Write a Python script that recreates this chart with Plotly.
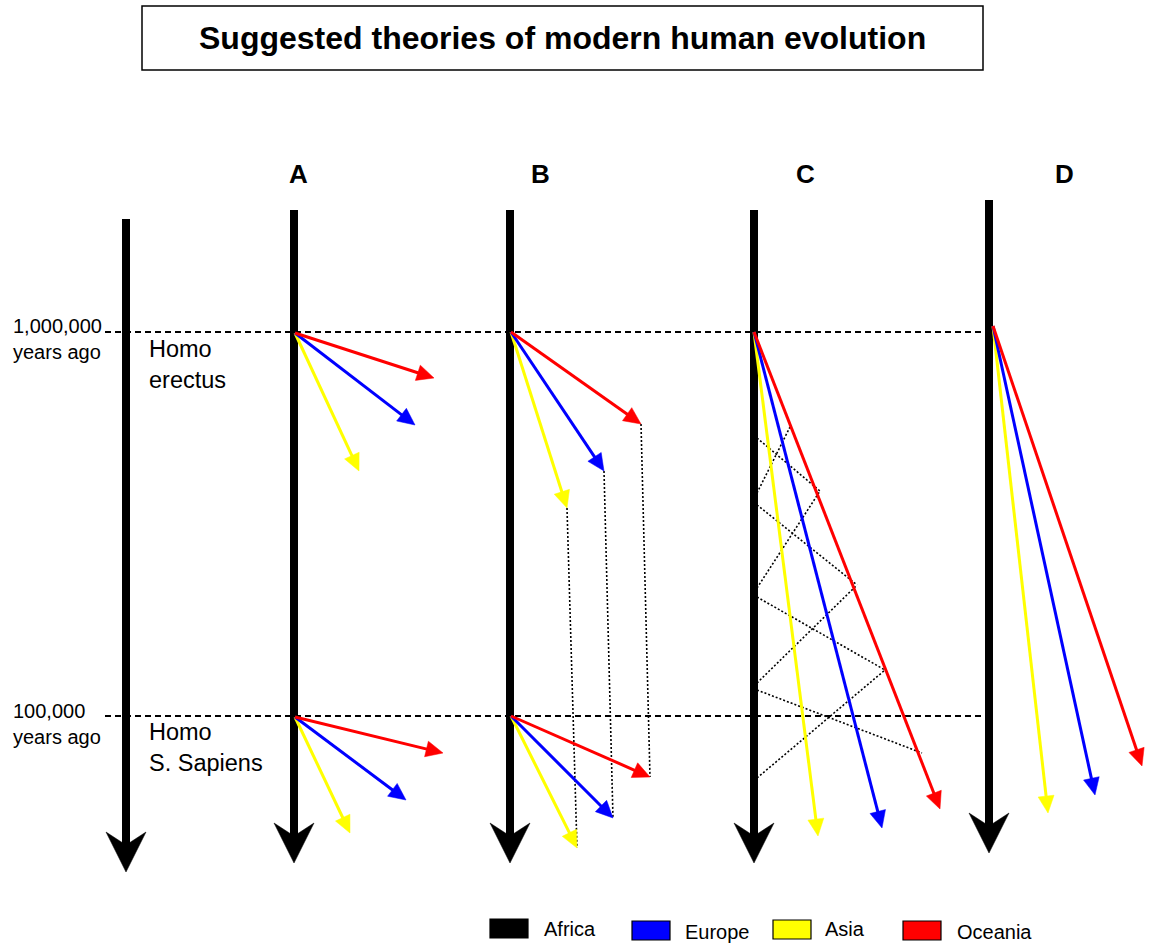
import numpy as np
import plotly.graph_objects as go

# ---------------- data ----------------
title = "Suggested theories of modern human evolution"
theories = ["A", "B", "C", "D"]
regions = ["Africa", "Europe", "Asia", "Oceania"]
region_colors = ["#000000", "#0000ff", "#ffff00", "#ff0000"]
time_labels = ["1,000,000<br>years ago", "100,000<br>years ago"]
species_labels = ["Homo<br>erectus", "Homo<br>S. Sapiens"]

# vertical timelines (reference, A, B, C, D) in page pixels
timeline_x = [126, 294, 510, 754, 989]
timeline_top = [219, 210, 210, 210, 200]
timeline_tip = [872, 863, 863, 863, 853]
era_y = [332, 716]
theory_label_x = [298, 540, 805, 1064]

# branch arrows: order Europe, Asia, Oceania
A1_origin = [295, 333]; A1_tip_x = [415, 359, 434]; A1_tip_y = [425, 471, 378]
A2_origin = [295, 717]; A2_tip_x = [406, 350, 443]; A2_tip_y = [800, 833, 753]
B1_origin = [511, 332]; B1_tip_x = [604, 567, 641]; B1_tip_y = [471, 508, 424]
B2_origin = [511, 716]; B2_tip_x = [613, 577, 650]; B2_tip_y = [818, 848, 777]
C_origin = [754, 332]; C_tip_x = [882, 818, 940]; C_tip_y = [828, 836, 809]
D_origin = [993, 326]; D_tip_x = [1095, 1048, 1142]; D_tip_y = [795, 813, 766]

# theory C gene-flow mesh (dotted)
C_mesh_left_x = 757
C_down_start_y = [438, 505, 597, 690]
C_down_end_x = [820, 857, 885, 922]
C_down_end_y = [491, 585, 670, 753]
C_up_start_y = [493, 588, 683, 778]
C_up_end_x = [790, 820, 857, 885]
C_up_end_y = [427, 491, 585, 670]

# legend
legend_box_x = [490, 632, 773, 903]
legend_box_y = [919, 921, 920, 921]
legend_text_x = [542, 683, 823, 955]
legend_text_y = [929, 932, 929, 932]

W, H = 1149, 943
FONT = "Liberation Sans, Arial, sans-serif"

fig = go.Figure()


def seg(xs, ys, color, width, dash=None):
    fig.add_trace(go.Scatter(x=xs, y=ys, mode="lines",
                             line=dict(color=color, width=width, dash=dash),
                             hoverinfo="skip", showlegend=False))


def arrow(x0, y0, x1, y1, color, width, head_len, head_w, notch=0.0):
    d = np.array([x1 - x0, y1 - y0], float)
    u = d / np.hypot(*d)
    n = np.array([-u[1], u[0]])
    tip = np.array([x1, y1], float)
    base = tip - u * head_len
    shaft_end = base + u * (notch + 1.5)
    seg([x0, shaft_end[0]], [y0, shaft_end[1]], color, width)
    left = base + n * head_w / 2
    right = base - n * head_w / 2
    if notch:
        pts = [tip, left, base + u * notch, right, tip]
    else:
        pts = [tip, left, right, tip]
    pts = np.array(pts)
    fig.add_trace(go.Scatter(x=pts[:, 0], y=pts[:, 1], mode="lines", fill="toself",
                             fillcolor=color, line=dict(color=color, width=0.5),
                             hoverinfo="skip", showlegend=False))


# dashed era lines
for yv in era_y:
    seg([105, 995], [yv, yv], "black", 2, dash="6px,4px")

# theory B dotted gene flow
for i in range(3):
    seg([B1_tip_x[i], B2_tip_x[i]], [B1_tip_y[i], B2_tip_y[i]], "black", 1.6, dash="2px,2px")

# theory C dotted mesh
for i in range(4):
    seg([C_mesh_left_x, C_down_end_x[i]], [C_down_start_y[i], C_down_end_y[i]], "black", 1.6, dash="2px,2px")
    seg([C_mesh_left_x, C_up_end_x[i]], [C_up_start_y[i], C_up_end_y[i]], "black", 1.6, dash="2px,2px")

# timelines (Africa)
for i in range(5):
    arrow(timeline_x[i], timeline_top[i], timeline_x[i], timeline_tip[i], "black", 8, 40, 40, notch=13)

# branch arrows
branch_color = [region_colors[1], region_colors[2], region_colors[3]]
for org, tx, ty in [(A1_origin, A1_tip_x, A1_tip_y), (A2_origin, A2_tip_x, A2_tip_y),
                    (B1_origin, B1_tip_x, B1_tip_y), (B2_origin, B2_tip_x, B2_tip_y),
                    (C_origin, C_tip_x, C_tip_y), (D_origin, D_tip_x, D_tip_y)]:
    for i in [1, 0, 2]:
        arrow(org[0], org[1], tx[i], ty[i], branch_color[i], 3, 17, 16)

ann = []
# theory letters
for lab, lx in zip(theories, theory_label_x):
    ann.append(dict(x=lx, y=174, text="<b>%s</b>" % lab, showarrow=False,
                    font=dict(size=26, color="black", family=FONT)))
# time labels
for lab, yv in zip(time_labels, [339, 724]):
    ann.append(dict(x=11, y=yv, text=lab, showarrow=False, xanchor="left", align="left",
                    font=dict(size=20, color="black", family=FONT)))
# species labels
for lab, yv in zip(species_labels, [364, 747]):
    ann.append(dict(x=147, y=yv, text=lab, showarrow=False, xanchor="left", align="left",
                    font=dict(size=23.5, color="black", family=FONT)))
# title
ann.append(dict(x=562, y=38, text="<b>%s</b>" % title, showarrow=False,
                font=dict(size=32, color="black", family=FONT)))
# legend labels
for lab, lx, ly in zip(regions, legend_text_x, legend_text_y):
    ann.append(dict(x=lx, y=ly, text=lab, showarrow=False, xanchor="left",
                    font=dict(size=20, color="black", family=FONT)))

shapes = [dict(type="rect", xref="x", yref="y", x0=142, x1=983, y0=6, y1=70,
               line=dict(color="black", width=1.5), fillcolor="rgba(0,0,0,0)")]
for bx, by, col in zip(legend_box_x, legend_box_y, region_colors):
    shapes.append(dict(type="rect", xref="x", yref="y", x0=bx, x1=bx + 38, y0=by, y1=by + 19,
                       line=dict(color="black", width=1.2), fillcolor=col))

fig.update_layout(
    width=W, height=H, margin=dict(l=0, r=0, t=0, b=0),
    paper_bgcolor="white", plot_bgcolor="white",
    xaxis=dict(range=[0, W], visible=False, fixedrange=True),
    yaxis=dict(range=[H, 0], visible=False, fixedrange=True),
    annotations=ann, shapes=shapes, showlegend=False,
)

fig.write_html("out.html", config={"displayModeBar": False},
               post_script="document.body.style.margin='0';document.body.style.overflow='hidden';")
